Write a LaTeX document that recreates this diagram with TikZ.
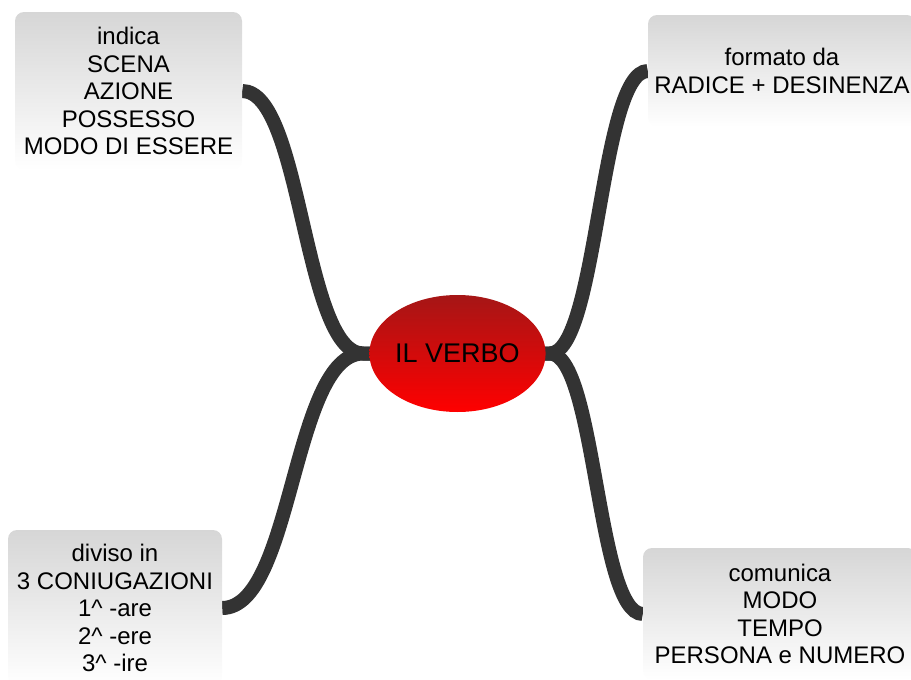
\documentclass[tikz,border=0pt]{standalone}
\usepackage{fontspec}
\setmainfont{Liberation Sans}
\usetikzlibrary{shapes.geometric,backgrounds,calc}
\definecolor{boxtop}{RGB}{214,214,214}
\definecolor{eltop}{RGB}{165,22,22}
\definecolor{elbot}{RGB}{255,0,0}
\definecolor{conn}{RGB}{51,51,51}
\begin{document}
\begin{tikzpicture}[x=1pt,y=-1pt,
  box/.style={shade, top color=boxtop, bottom color=white, rounded corners=9pt,
    align=center, inner sep=0pt, font=\fontsize{24}{27.5}\selectfont},
  hub/.style={ellipse, shade, top color=eltop, bottom color=elbot,
    minimum width=175pt, minimum height=117pt, inner sep=0pt,
    font=\fontsize{27}{30}\selectfont},
  link/.style={draw=conn, line width=14pt}]
\useasboundingbox (0,0) rectangle (911,680);
\node[box, minimum width=227pt, minimum height=158pt] (b1) at (128.5,91)
  {indica\\SCENA\\AZIONE\\POSSESSO\\MODO DI ESSERE};
\node[box, minimum width=268pt, minimum height=112pt] (b2) at (782,71)
  {formato da\\RADICE + DESINENZA};
\node[box, minimum width=214pt, minimum height=156pt] (b3) at (115,608)
  {diviso in\\3 CONIUGAZIONI\\1\textasciicircum\ -are\\2\textasciicircum\ -ere\\3\textasciicircum\ -ire};
\node[box, minimum width=274pt, minimum height=132pt] (b4) at (780,614)
  {comunica\\MODO\\TEMPO\\PERSONA e NUMERO};
\node[hub] (e) at (457.5,353.5) {IL VERBO};
\begin{scope}[on background layer]
  \coordinate (jl) at ([xshift=-6pt]e.west);
  \coordinate (jr) at ([xshift=4pt]e.east);
  \draw[link] (b1.east) .. controls +(60,0) and +(-60,0) .. (jl) -- (e.center);
  \draw[link] (b3.east) .. controls +(71,0) and +(-71,0) .. (jl) -- (e.center);
  \draw[link] (b2.west) .. controls +(-48,0) and +(48,0) .. (jr) -- (e.center);
  \draw[link] (b4.west) .. controls +(-46,0) and +(46,0) .. (jr) -- (e.center);
\end{scope}
\end{tikzpicture}
\end{document}
